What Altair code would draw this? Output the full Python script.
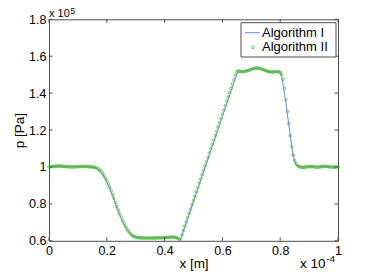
import altair as alt
import pandas as pd

# ---- data (x in 1e-4 m, p in 1e5 Pa) ----
x2 = [round(i * 0.005, 3) for i in range(201)]
p2 = [
    1.000, 1.001, 1.002, 1.003, 1.004, 1.004, 1.005, 1.005, 1.005, 1.004,
    1.004, 1.003, 1.002, 1.001, 1.001, 1.000, 1.000, 1.000, 1.001, 1.001,
    1.002, 1.002, 1.003, 1.003, 1.003, 1.003, 1.002, 1.002, 1.001, 1.000,
    1.000, 0.999, 0.997, 0.994, 0.990, 0.984, 0.976, 0.966, 0.954, 0.940,
    0.925, 0.908, 0.890, 0.871, 0.851, 0.830, 0.808, 0.786, 0.766, 0.746,
    0.728, 0.709, 0.692, 0.677, 0.663, 0.651, 0.641, 0.633, 0.627, 0.623,
    0.620, 0.618, 0.617, 0.616, 0.616, 0.615, 0.615, 0.615, 0.615, 0.615,
    0.615, 0.615, 0.615, 0.615, 0.616, 0.616, 0.616, 0.616, 0.616, 0.617,
    0.617, 0.618, 0.619, 0.620, 0.620, 0.620, 0.620, 0.619, 0.617, 0.614,
    0.609, 0.605, 0.632, 0.656, 0.679, 0.702, 0.726, 0.749, 0.772, 0.796,
    0.819, 0.842, 0.866, 0.889, 0.912, 0.936, 0.959, 0.982, 1.006, 1.029,
    1.052, 1.076, 1.099, 1.122, 1.146, 1.169, 1.192, 1.216, 1.239, 1.262,
    1.286, 1.309, 1.332, 1.356, 1.379, 1.402, 1.426, 1.449, 1.472, 1.496,
    1.515, 1.518, 1.517, 1.516, 1.516, 1.517, 1.518, 1.520, 1.523, 1.526,
    1.529, 1.532, 1.534, 1.536, 1.536, 1.535, 1.533, 1.531, 1.528, 1.525,
    1.522, 1.519, 1.517, 1.515, 1.514, 1.514, 1.515, 1.516, 1.517, 1.516,
    1.512, 1.500, 1.475, 1.425, 1.365, 1.300, 1.235, 1.170, 1.110, 1.065,
    1.035, 1.017, 1.007, 1.002, 0.999, 0.998, 0.998, 0.999, 1.000, 1.001,
    1.002, 1.002, 1.002, 1.001, 1.000, 0.999, 0.999, 1.000, 1.001, 1.002,
    1.003, 1.003, 1.003, 1.002, 1.001, 1.000, 0.999, 0.999, 0.999, 1.000,
    1.000,
]
x1 = [0.0, 0.03, 0.06, 0.09, 0.12, 0.15, 0.165, 0.175, 0.185, 0.195, 0.205,
      0.215, 0.225, 0.235, 0.245, 0.255, 0.265, 0.275, 0.285, 0.295, 0.31,
      0.35, 0.40, 0.43, 0.45, 0.455, 0.655, 0.665, 0.69, 0.715, 0.74, 0.765,
      0.79, 0.80, 0.805, 0.81, 0.82, 0.83, 0.84, 0.845, 0.85, 0.855, 0.86,
      0.87, 0.90, 0.95, 1.0]
p1 = [1.000, 1.003, 1.002, 1.000, 1.002, 0.999, 0.992, 0.981, 0.962, 0.935,
      0.902, 0.864, 0.822, 0.779, 0.738, 0.702, 0.672, 0.649, 0.633, 0.624,
      0.618, 0.615, 0.617, 0.620, 0.614, 0.606, 1.527, 1.518, 1.522, 1.535,
      1.527, 1.515, 1.516, 1.514, 1.490, 1.445, 1.345, 1.225, 1.110, 1.062,
      1.032, 1.014, 1.005, 1.000, 1.001, 1.002, 1.000]

series_names = ["Algorithm I", "Algorithm II"]
x_ticks = [0, 0.2, 0.4, 0.6, 0.8, 1.0]
y_ticks = [0.6, 0.8, 1.0, 1.2, 1.4, 1.6, 1.8]

df1 = pd.DataFrame({"x": x1, "p": p1})
df2 = pd.DataFrame({"x": x2, "p": p2})

W, H = 289, 221.5
PAD_L, PAD_T = 41, 11.3
FONT = "Liberation Sans"
FRAME = "#4d4d4d"
BLUE = "#6f80f2"
GREEN = "#4dbb3a"

xs = alt.Scale(domain=[0, 1], nice=False, zero=False)
ys = alt.Scale(domain=[0.6, 1.8], nice=False, zero=False)

xaxis = alt.Axis(values=x_ticks, format="~g", ticks=False, domain=False, grid=False,
                 labelFont=FONT, labelFontSize=12.5, labelColor="black", labelPadding=4,
                 labelOverlap=False, labelFlush=False,
                 title="x [m]", titleFont=FONT, titleFontSize=13.5, titleFontWeight="normal",
                 titleColor="black", titleY=26.5, titleBaseline="alphabetic")
yaxis = alt.Axis(values=y_ticks, format="~g", ticks=False, domain=False, grid=False,
                 labelFont=FONT, labelFontSize=12.5, labelColor="black", labelPadding=3,
                 labelOverlap=False, labelFlush=False,
                 title="p [Pa]", titleFont=FONT, titleFontSize=13.5, titleFontWeight="normal",
                 titleColor="black", titleX=-26, titleY=H / 2, titleBaseline="alphabetic",
                 titleAngle=270)

X = alt.X("x:Q", scale=xs, axis=xaxis)
Y = alt.Y("p:Q", scale=ys, axis=yaxis)

line = alt.Chart(df1).mark_line(color=BLUE, strokeWidth=1).encode(x=X, y=Y)
pts = alt.Chart(df2).mark_point(filled=False, color=GREEN, size=7, strokeWidth=0.8,
                                opacity=1).encode(x=X, y=Y)

xt = pd.DataFrame({"x": x_ticks})
yt = pd.DataFrame({"p": y_ticks})
tk = 3.5
tick_layers = [
    alt.Chart(xt).mark_rule(color=FRAME, strokeWidth=1).encode(
        x=X, y=alt.value(H), y2=alt.value(H - tk)),
    alt.Chart(xt).mark_rule(color=FRAME, strokeWidth=1).encode(
        x=X, y=alt.value(0), y2=alt.value(tk)),
    alt.Chart(yt).mark_rule(color=FRAME, strokeWidth=1).encode(
        y=Y, x=alt.value(0), x2=alt.value(tk)),
    alt.Chart(yt).mark_rule(color=FRAME, strokeWidth=1).encode(
        y=Y, x=alt.value(W), x2=alt.value(W - tk)),
]

one = pd.DataFrame({"a": [0]})
def txt(s, x, y, size, baseline="alphabetic"):
    return alt.Chart(one).mark_text(text=s, font=FONT, fontSize=size, color="black",
                                    align="left", baseline=baseline).encode(
        x=alt.value(x), y=alt.value(y))

ann = [
    txt("x 10", 0, -2, 11),
    txt("5", 21.5, -4.8, 8.5),
    txt("x 10", 251, 248.5, 13.5),
    txt("-4", 277.5, 242.5, 9.5),
]

# legend (box, line sample, marker sample, labels)
LX0, LX1, LY0, LY1 = 192, 287, 3.4, 37.7
ROW1, ROW2 = 13.4, 28.0
legend = [
    alt.Chart(one).mark_rect(fill="white", stroke=FRAME, strokeWidth=1).encode(
        x=alt.value(LX0), x2=alt.value(LX1), y=alt.value(LY0), y2=alt.value(LY1)),
    alt.Chart(one).mark_rule(color=BLUE, strokeWidth=1).encode(
        x=alt.value(LX0 + 4), x2=alt.value(LX0 + 19), y=alt.value(ROW1)),
    alt.Chart(one).mark_point(filled=False, color=GREEN, size=7, strokeWidth=0.8,
                              opacity=1).encode(x=alt.value(LX0 + 12), y=alt.value(ROW2)),
    txt(series_names[0], LX0 + 21, ROW1, 13, "middle"),
    txt(series_names[1], LX0 + 21, ROW2, 13, "middle"),
]

# whole drawing must fit in 357 x 264 (373 x 280 window minus 8px body margins)
chart = alt.layer(line, pts, *tick_layers, *ann, *legend).properties(
    width=W, height=H,
    autosize=alt.AutoSizeParams(type="none"),
    padding={"left": PAD_L, "top": PAD_T, "right": 357 - PAD_L - W,
             "bottom": 263 - PAD_T - H},
    background="white",
).configure_view(stroke=FRAME, strokeWidth=1)

chart.save("out.html", embed_options={"renderer": "svg", "actions": False})
